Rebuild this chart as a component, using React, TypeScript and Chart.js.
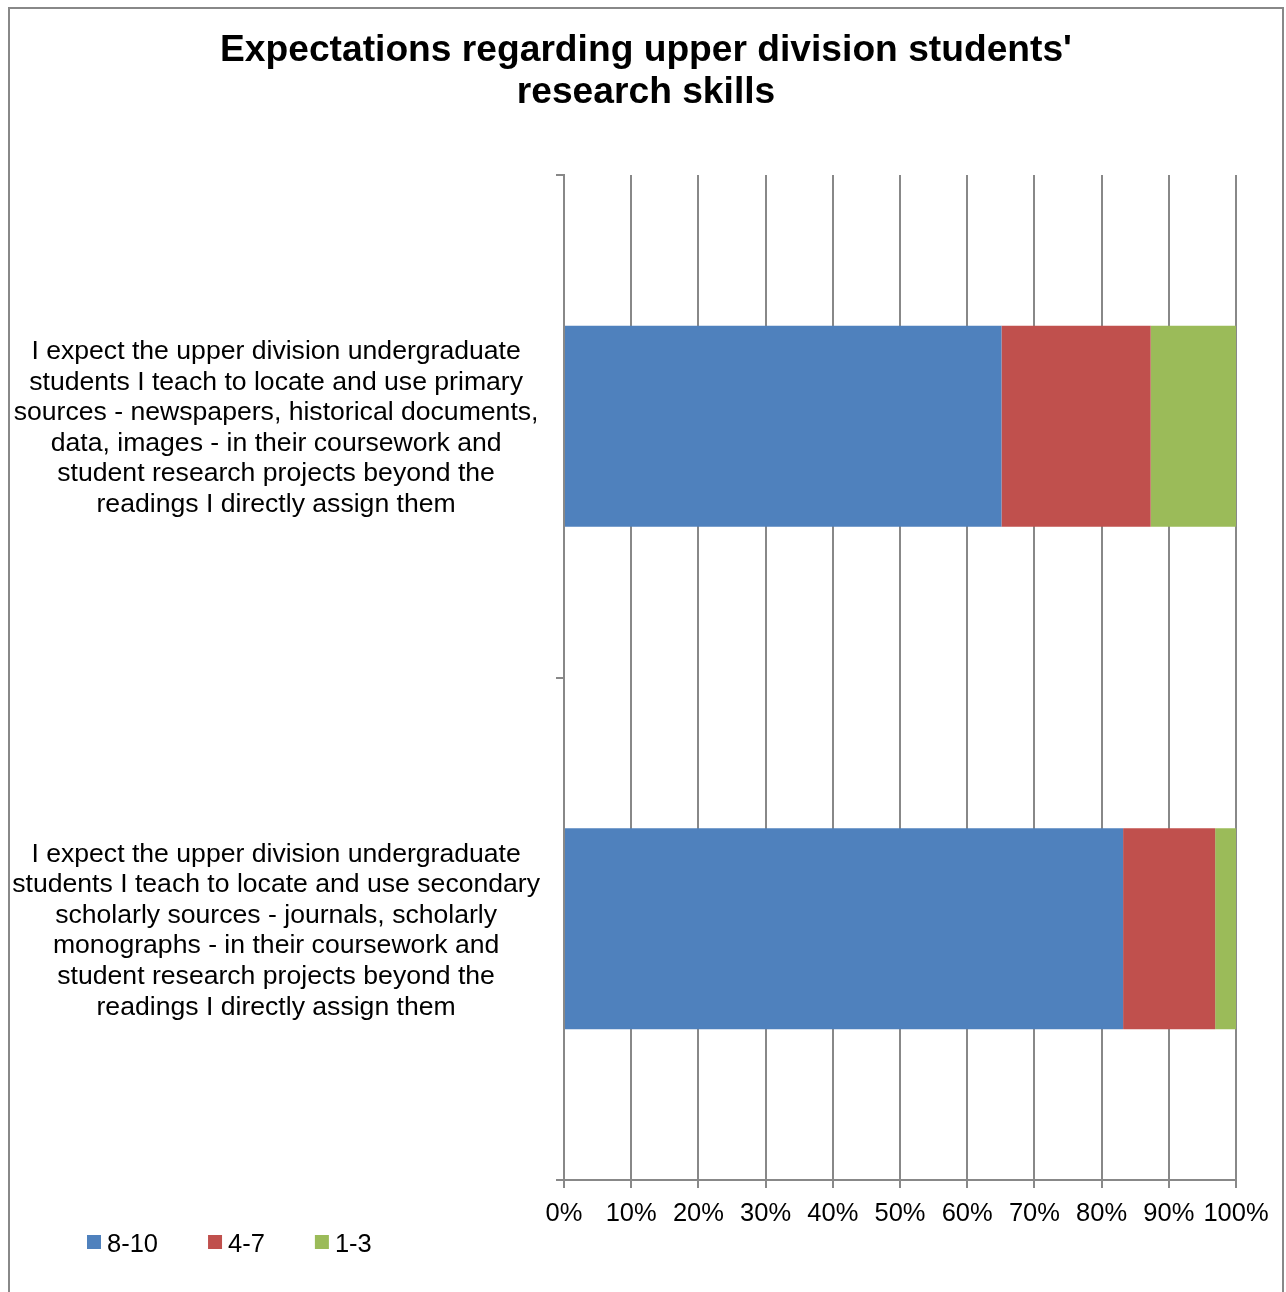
import { useEffect, useRef } from "react";
import { Chart, registerables } from "chart.js";

Chart.register(...registerables);

const FONT = "'Liberation Sans', Arial, sans-serif";

const TITLE_LINES = ["Expectations regarding upper division students'", "research skills"];

const CATEGORY_LABELS = [
  [
    "I expect the upper division undergraduate",
    "students I teach to locate and use primary",
    "sources - newspapers, historical documents,",
    "data, images - in their coursework and",
    "student research projects beyond the",
    "readings I directly assign them",
  ],
  [
    "I expect the upper division undergraduate",
    "students I teach to locate and use secondary",
    "scholarly sources - journals, scholarly",
    "monographs - in their coursework and",
    "student research projects beyond the",
    "readings I directly assign them",
  ],
];

const SERIES_NAMES = ["8-10", "4-7", "1-3"];
const SERIES_COLORS = ["#4F81BD", "#C0504D", "#9BBB59"];
const VALUES_8_10 = [65.1, 83.2];
const VALUES_4_7 = [22.2, 13.7];
const VALUES_1_3 = [12.7, 3.1];

const X_MIN = 0;
const X_MAX = 100;
const X_STEP = 10;

const GRID = "#888888";

const legendPlugin = {
  id: "customLegend",
  afterDraw(chart: any) {
    const ctx = chart.ctx;
    ctx.save();
    ctx.font = `25.5px ${FONT}`;
    ctx.textBaseline = "middle";
    ctx.textAlign = "left";
    let x = 77;
    const y = 1226;
    chart.data.datasets.forEach((ds: any) => {
      ctx.fillStyle = ds.backgroundColor;
      ctx.fillRect(x, y, 14, 14);
      ctx.fillStyle = "#000";
      ctx.fillText(ds.label, x + 20, y + 10);
      x += 20 + ctx.measureText(ds.label).width + 50;
    });
    ctx.restore();
  },
};

export default function App() {
  const ref = useRef<HTMLCanvasElement | null>(null);

  useEffect(() => {
    if (!ref.current) return;
    const seriesValues = [VALUES_8_10, VALUES_4_7, VALUES_1_3];
    const chart = new Chart(ref.current, {
      type: "bar",
      data: {
        labels: CATEGORY_LABELS,
        datasets: SERIES_NAMES.map((name, i) => ({
          label: name,
          data: seriesValues[i],
          backgroundColor: SERIES_COLORS[i],
          borderWidth: 0,
          barPercentage: 0.4,
          categoryPercentage: 1,
        })),
      },
      options: {
        indexAxis: "y",
        responsive: false,
        animation: false,
        devicePixelRatio: 1,
        layout: { padding: { left: 0, right: 0, top: 0, bottom: 0 } },
        plugins: {
          legend: { display: false },
          tooltip: { enabled: false },
          title: {
            display: true,
            text: TITLE_LINES,
            color: "#000",
            font: { family: FONT, size: 37.2, weight: "bold", lineHeight: 42 / 37.2 },
            padding: { top: 21, bottom: 61 },
          },
        },
        scales: {
          x: {
            stacked: true,
            min: X_MIN,
            max: X_MAX,
            afterFit: (s: any) => {
              s.height = 109;
            },
            ticks: {
              stepSize: X_STEP,
              maxRotation: 0,
              autoSkip: false,
              padding: 11,
              color: "#000",
              font: { family: FONT, size: 25.5, lineHeight: 1.2 },
              callback: (v: any) => `${v}%`,
            },
            grid: {
              color: GRID,
              lineWidth: 2,
              drawTicks: true,
              tickLength: 8,
            },
            border: { display: true, color: GRID, width: 2 },
          },
          y: {
            stacked: true,
            afterFit: (s: any) => {
              s.width = 554;
            },
            ticks: {
              crossAlign: "center",
              padding: 16,
              labelOffset: 2,
              color: "#000",
              font: { family: FONT, size: 26.6, lineHeight: 1.15 },
            },
            grid: {
              offset: true,
              drawOnChartArea: false,
              drawTicks: true,
              tickLength: 8,
              color: GRID,
              lineWidth: 2,
            },
            border: { display: true, color: GRID, width: 2 },
          },
          spacer: {
            type: "linear",
            position: "right",
            display: true,
            grid: { display: false, drawTicks: false },
            border: { display: false },
            ticks: { display: false },
            afterFit: (s: any) => {
              s.width = 46;
            },
          },
        },
      },
      plugins: [legendPlugin],
    } as any);
    return () => chart.destroy();
  }, []);

  return (
    <div
      style={{
        position: "absolute",
        left: 8,
        top: 7,
        width: 1276,
        height: 1285,
        boxSizing: "border-box",
        border: "2px solid #888",
        borderBottom: "none",
        background: "#fff",
      }}
    >
      <canvas ref={ref} width={1272} height={1280} style={{ display: "block" }} />
    </div>
  );
}
